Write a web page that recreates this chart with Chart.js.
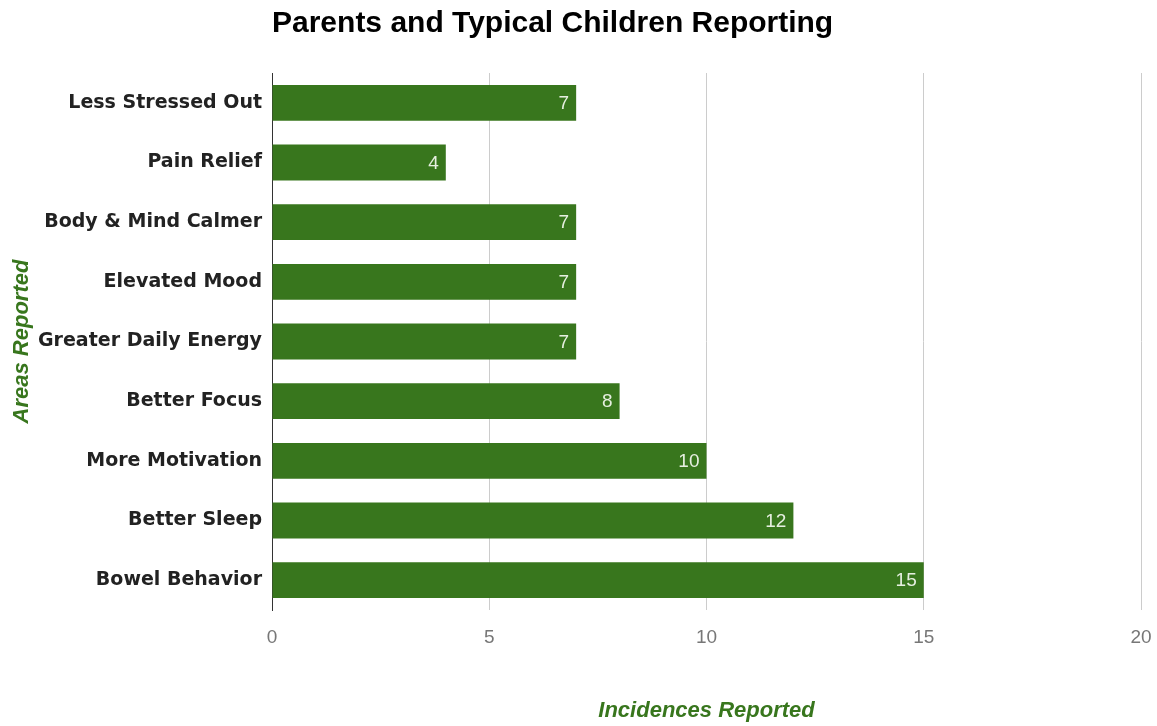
<!DOCTYPE html>
<html>
<head>
<meta charset="utf-8">
<script src="https://cdn.jsdelivr.net/npm/chart.js@4.4.1/dist/chart.umd.min.js"></script>
<style>
html,body{margin:0;padding:0;background:#fff;}
#wrap{width:1157px;height:726px;position:relative;}
</style>
</head>
<body>
<div id="wrap"><canvas id="c" width="1157" height="726"></canvas></div>
<script>
const chartTitle = 'Parents and Typical Children Reporting';
const categories = ['Less Stressed Out','Pain Relief','Body & Mind Calmer','Elevated Mood','Greater Daily Energy','Better Focus','More Motivation','Better Sleep','Bowel Behavior'];
const incidences = [7,4,7,7,7,8,10,12,15];
const xTicks = [0,5,10,15,20];
const xTitle = 'Incidences Reported';
const yTitle = 'Areas Reported';

const GREEN = '#38761d';
const FONT = '"Liberation Sans", Arial, sans-serif';
const LABEL_FONT = '"DejaVu Sans", Verdana, sans-serif';

const titlePlugin = {
  id: 'leftTitle',
  afterDraw(chart) {
    const ctx = chart.ctx;
    ctx.save();
    ctx.font = 'bold 30px ' + FONT;
    ctx.fillStyle = '#000';
    ctx.textAlign = 'left';
    ctx.textBaseline = 'alphabetic';
    ctx.fillText(chartTitle, chart.chartArea.left, 32);
    ctx.restore();
  }
};

const valueLabels = {
  id: 'valueLabels',
  afterDatasetsDraw(chart) {
    const ctx = chart.ctx;
    const meta = chart.getDatasetMeta(0);
    ctx.save();
    ctx.font = '19px ' + FONT;
    ctx.fillStyle = '#e6efe0';
    ctx.textAlign = 'right';
    ctx.textBaseline = 'middle';
    meta.data.forEach((bar, i) => {
      ctx.fillText(String(chart.data.datasets[0].data[i]), bar.x - 7, bar.y + 1);
    });
    ctx.restore();
  }
};

new Chart(document.getElementById('c'), {
  type: 'bar',
  data: {
    labels: categories,
    datasets: [{
      data: incidences,
      backgroundColor: GREEN,
      borderWidth: 0,
      barPercentage: 0.6,
      categoryPercentage: 1.0
    }]
  },
  plugins: [titlePlugin, valueLabels],
  options: {
    indexAxis: 'y',
    responsive: false,
    animation: false,
    layout: { padding: { top: 73, right: 16, left: 0, bottom: 0 } },
    plugins: { legend: { display: false }, tooltip: { enabled: false }, title: { display: false } },
    scales: {
      x: {
        min: 0, max: 20,
        afterBuildTicks(scale) { scale.ticks = xTicks.map(v => ({ value: v })); },
        afterFit(scale) { scale.height = 116; scale.paddingRight = 0; scale.paddingLeft = 0; },
        grid: {
          color: ctx => (ctx.tick && ctx.tick.value === 0) ? 'rgba(0,0,0,0)' : '#cccccc',
          lineWidth: 1,
          drawTicks: false
        },
        border: { display: false },
        ticks: {
          padding: 16,
          color: '#777',
          font: { family: FONT, size: 19 }
        },
        title: {
          display: true,
          text: xTitle,
          color: GREEN,
          font: { family: FONT, size: 22, weight: 'bold', style: 'italic' },
          padding: { top: 0, bottom: 2 }
        }
      },
      y: {
        afterFit(scale) { scale.width = 272; scale.paddingTop = 0; scale.paddingBottom = 0; },
        grid: { display: false, drawTicks: false },
        border: { display: true, color: '#333', width: 1 },
        ticks: {
          padding: 10,
          color: '#222',
          font: { family: LABEL_FONT, size: 19, weight: 'bold' }
        },
        title: {
          display: true,
          text: yTitle,
          color: GREEN,
          font: { family: FONT, size: 22, weight: 'bold', style: 'italic' },
          padding: { top: 9, bottom: 0 }
        }
      }
    }
  }
});
</script>
</body>
</html>
